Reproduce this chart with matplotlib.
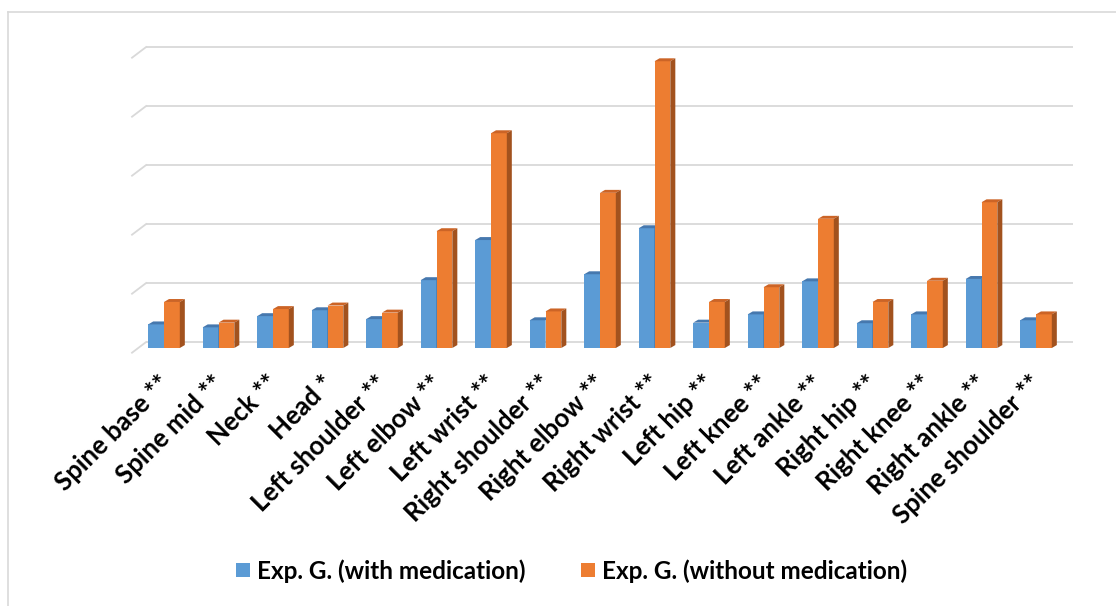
import matplotlib
matplotlib.use("Agg")
import matplotlib.pyplot as plt
from matplotlib.patches import Polygon, Rectangle
from matplotlib.lines import Line2D
import numpy as np

JOINTS = ["Spine base **", "Spine mid **", "Neck **", "Head *", "Left shoulder **",
          "Left elbow **", "Left wrist **", "Right shoulder **", "Right elbow **",
          "Right wrist **", "Left hip **", "Left knee **", "Left ankle **",
          "Right hip **", "Right knee **", "Right ankle **", "Spine shoulder **"]
WITH_MED = [0.40, 0.35, 0.54, 0.64, 0.49, 1.15, 1.83, 0.47, 1.25, 2.03,
            0.43, 0.57, 1.13, 0.42, 0.57, 1.17, 0.47]
WITHOUT_MED = [0.78, 0.43, 0.66, 0.72, 0.60, 1.98, 3.64, 0.62, 2.63, 4.86,
               0.78, 1.03, 2.19, 0.78, 1.14, 2.47, 0.57]
GRID_LEVELS = [0, 1, 2, 3, 4, 5]
SERIES_LABELS = ["Exp. G. (with medication)", "Exp. G. (without medication)"]

# front, top, side colours per series
COLORS = {
    "with":    ("#5B9BD5", "#4678AE", "#3E6C9C"),
    "without": ("#ED7D31", "#CC6426", "#A2521E"),
}
GRID = "#D9D9D9"
FONT = "Lato"

W = 0.29          # bar width (category units)
DEPTH_X = 0.092   # 3d offset of bar top/side
DEPTH_Y = 0.05
WALL_Y = 0.10     # back wall is a little above the bar base
FLOOR_X, FLOOR_Y = 0.257, 0.18

fig = plt.figure(figsize=(11.16, 6.06), dpi=100)
# axes placed so that category 0 sits at ~164 px and one grid step is ~59 px
ax = fig.add_axes([120 / 1116, (606 - 360) / 606, 970 / 1116, 330 / 606])
ax.set_xlim((120 - 164) / 54.5, (1090 - 164) / 54.5)
ax.set_ylim((348 - 360) / 59, (348 - 30) / 59)
ax.axis("off")

x = np.arange(len(JOINTS))
gx0, gx1 = -0.33, len(JOINTS) - 1 + 0.68
for k in GRID_LEVELS:
    yk = k + WALL_Y
    ax.plot([gx0, gx1], [yk, yk], color=GRID, lw=1.3, zorder=1, solid_capstyle="butt")
    ax.plot([gx0 - FLOOR_X, gx0], [yk - FLOOR_Y, yk], color=GRID, lw=1.3, zorder=1,
            clip_on=False)


def draw_series(xs, vals, key, z):
    front, top, side = COLORS[key]
    ax.bar(xs, vals, W, align="edge", color=front, zorder=z, linewidth=0)
    for x0, h in zip(xs, vals):
        x1 = x0 + W
        ax.add_patch(Polygon([(x0, h), (x1, h), (x1 + DEPTH_X, h + DEPTH_Y),
                              (x0 + DEPTH_X, h + DEPTH_Y)],
                             closed=True, fc=top, ec="none", zorder=z + 0.1))
        ax.add_patch(Polygon([(x1, 0), (x1, h), (x1 + DEPTH_X, h + DEPTH_Y),
                              (x1 + DEPTH_X, DEPTH_Y)],
                             closed=True, fc=side, ec="none", zorder=z + 0.1))


draw_series(x - W, WITH_MED, "with", 2)
draw_series(x, WITHOUT_MED, "without", 3)

for i, lab in enumerate(JOINTS):
    ax.text(i - 0.12, -0.39, lab, rotation=45, rotation_mode="anchor",
            ha="right", va="top", fontsize=18.5, fontweight="bold",
            family=FONT, color="black", clip_on=False)

# legend
for (key, label, sq_x, tx_x) in [("with", SERIES_LABELS[0], 236, 257),
                                 ("without", SERIES_LABELS[1], 581, 602)]:
    fig.patches.append(Rectangle((sq_x / 1116, (606 - 577) / 606), 14 / 1116, 14 / 606,
                                 transform=fig.transFigure, fc=COLORS[key][0], ec="none"))
    fig.text(tx_x / 1116, (606 - 571) / 606, label, ha="left", va="center",
             fontsize=17.5, fontweight="bold", family=FONT, color="black")

# chart border (left and top only)
fig.add_artist(Line2D([8 / 1116, 8 / 1116], [0, (606 - 12) / 606], color=GRID, lw=1.2))
fig.add_artist(Line2D([8 / 1116, 1], [(606 - 12) / 606] * 2, color=GRID, lw=1.2))

fig.savefig("out.png", dpi=100, facecolor="white")
